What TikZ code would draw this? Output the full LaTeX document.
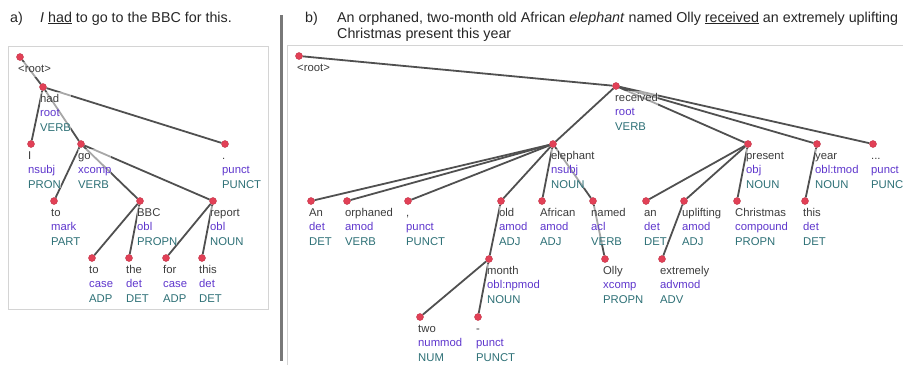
\documentclass[tikz,border=0pt]{standalone}
\usepackage{fontspec}
\setmainfont{Liberation Sans}
\usepackage{xcolor}
\usepackage{tikz}
\usetikzlibrary{positioning, backgrounds}

\definecolor{wordc}{RGB}{60,60,60}
\definecolor{relc}{RGB}{95,55,205}
\definecolor{posc}{RGB}{45,112,118}
\definecolor{dotc}{RGB}{226,64,86}
\definecolor{edgec}{RGB}{80,80,80}
\definecolor{panelc}{RGB}{212,212,212}
\definecolor{sepc}{RGB}{120,120,120}

\newcommand{\deprel}[1]{\textcolor{relc}{#1}}
\newcommand{\upos}[1]{\textcolor{posc}{#1}}

\begin{document}
\begin{tikzpicture}[
            x=1pt, y=-1pt,
            tok/.style={circle, fill=dotc, draw=dotc!85!black, line width=0.4pt, minimum size=7pt, inner sep=0pt},
            lbl/.style={anchor=north west, align=left, inner sep=0pt, text=wordc, fill=white, fill opacity=0.5, text opacity=1, font=\fontsize{11.3}{14.4}\selectfont},
            dep/.style={draw=edgec, line width=1.8pt},
            title/.style={anchor=base west, inner sep=0pt, text=black!85, font=\fontsize{14.3}{16.5}\selectfont},
            panel/.style={draw=panelc, line width=0.8pt}
        ]
        \useasboundingbox (0,0) rectangle (903,365);

        % Titles
        \node[title] (ta) at (10,22) {a)};
        \node[title] (tas) at (40,22) {\textit{I} \underline{had} to go to the BBC for this.};
        \node[title] (tb) at (305,22) {b)};
        \node[title] (tbs1) at (337,22) {An orphaned, two-month old African \textit{elephant} named Olly \underline{received} an extremely uplifting};
        \node[title] (tbs2) at (337,38.5) {Christmas present this year};

        % Panels
        \draw[panel] (8,46) rectangle (268,309);
        \draw[panel] (903,45) -- (287,45) -- (287,365);
        \draw[sepc, line width=3pt] (281,15) -- (281,361);

        % Sentence a: tokens
        \node[tok] (aroot) at (20,57) {};
        \node[lbl, below right=5pt and -2pt of aroot.center] (aroot-l) {\strut<root>};
        \node[tok] (ahad) at (43,87) {};
        \node[lbl, below right=5pt and -3pt of ahad.center] (ahad-l) {\strut had\\\deprel{root}\\\upos{VERB}};
        \node[tok] (aI) at (31,144) {};
        \node[lbl, below right=5pt and -3pt of aI.center] (aI-l) {\strut I\\\deprel{nsubj}\\\upos{PRON}};
        \node[tok] (ago) at (81,144) {};
        \node[lbl, below right=5pt and -3pt of ago.center] (ago-l) {\strut go\\\deprel{xcomp}\\\upos{VERB}};
        \node[tok] (apunct) at (225,144) {};
        \node[lbl, below right=5pt and -3pt of apunct.center] (apunct-l) {\strut .\\\deprel{punct}\\\upos{PUNCT}};
        \node[tok] (ato) at (54,201) {};
        \node[lbl, below right=5pt and -3pt of ato.center] (ato-l) {\strut to\\\deprel{mark}\\\upos{PART}};
        \node[tok] (abbc) at (140,201) {};
        \node[lbl, below right=5pt and -3pt of abbc.center] (abbc-l) {\strut BBC\\\deprel{obl}\\\upos{PROPN}};
        \node[tok] (areport) at (213,201) {};
        \node[lbl, below right=5pt and -3pt of areport.center] (areport-l) {\strut report\\\deprel{obl}\\\upos{NOUN}};
        \node[tok] (atocase) at (92,258) {};
        \node[lbl, below right=5pt and -3pt of atocase.center] (atocase-l) {\strut to\\\deprel{case}\\\upos{ADP}};
        \node[tok] (athe) at (129,258) {};
        \node[lbl, below right=5pt and -3pt of athe.center] (athe-l) {\strut the\\\deprel{det}\\\upos{DET}};
        \node[tok] (afor) at (166,258) {};
        \node[lbl, below right=5pt and -3pt of afor.center] (afor-l) {\strut for\\\deprel{case}\\\upos{ADP}};
        \node[tok] (athis) at (202,258) {};
        \node[lbl, below right=5pt and -3pt of athis.center] (athis-l) {\strut this\\\deprel{det}\\\upos{DET}};

        % Sentence b: tokens
        \node[tok] (broot) at (299,56) {};
        \node[lbl, below right=5pt and -2pt of broot.center] (broot-l) {\strut<root>};
        \node[tok] (breceived) at (616,86) {};
        \node[lbl, below right=5pt and -1pt of breceived.center] (breceived-l) {\strut received\\\deprel{root}\\\upos{VERB}};
        \node[tok] (belephant) at (553,144) {};
        \node[lbl, below right=5pt and -2pt of belephant.center] (belephant-l) {\strut elephant\\\deprel{nsubj}\\\upos{NOUN}};
        \node[tok] (bpresent) at (748,144) {};
        \node[lbl, below right=5pt and -2pt of bpresent.center] (bpresent-l) {\strut present\\\deprel{obj}\\\upos{NOUN}};
        \node[tok] (byear) at (817,144) {};
        \node[lbl, below right=5pt and -2pt of byear.center] (byear-l) {\strut year\\\deprel{obl:tmod}\\\upos{NOUN}};
        \node[tok] (bdots) at (873,144) {};
        \node[lbl, below right=5pt and -2pt of bdots.center] (bdots-l) {\strut ...\\\deprel{punct}\\\upos{PUNC}};
        \node[tok] (ban) at (311,201) {};
        \node[lbl, below right=5pt and -2pt of ban.center] (ban-l) {\strut An\\\deprel{det}\\\upos{DET}};
        \node[tok] (borphaned) at (347,201) {};
        \node[lbl, below right=5pt and -2pt of borphaned.center] (borphaned-l) {\strut orphaned\\\deprel{amod}\\\upos{VERB}};
        \node[tok] (bcomma) at (408,201) {};
        \node[lbl, below right=5pt and -2pt of bcomma.center] (bcomma-l) {\strut ,\\\deprel{punct}\\\upos{PUNCT}};
        \node[tok] (bold) at (501,201) {};
        \node[lbl, below right=5pt and -2pt of bold.center] (bold-l) {\strut old\\\deprel{amod}\\\upos{ADJ}};
        \node[tok] (bafrican) at (542,201) {};
        \node[lbl, below right=5pt and -2pt of bafrican.center] (bafrican-l) {\strut African\\\deprel{amod}\\\upos{ADJ}};
        \node[tok] (bnamed) at (593,201) {};
        \node[lbl, below right=5pt and -2pt of bnamed.center] (bnamed-l) {\strut named\\\deprel{acl}\\\upos{VERB}};
        \node[tok] (ban2) at (646,201) {};
        \node[lbl, below right=5pt and -2pt of ban2.center] (ban2-l) {\strut an\\\deprel{det}\\\upos{DET}};
        \node[tok] (buplifting) at (684,201) {};
        \node[lbl, below right=5pt and -2pt of buplifting.center] (buplifting-l) {\strut uplifting\\\deprel{amod}\\\upos{ADJ}};
        \node[tok] (bchristmas) at (737,201) {};
        \node[lbl, below right=5pt and -2pt of bchristmas.center] (bchristmas-l) {\strut Christmas\\\deprel{compound}\\\upos{PROPN}};
        \node[tok] (bthis) at (805,201) {};
        \node[lbl, below right=5pt and -2pt of bthis.center] (bthis-l) {\strut this\\\deprel{det}\\\upos{DET}};
        \node[tok] (bmonth) at (489,259) {};
        \node[lbl, below right=5pt and -2pt of bmonth.center] (bmonth-l) {\strut month\\\deprel{obl:npmod}\\\upos{NOUN}};
        \node[tok] (bolly) at (605,259) {};
        \node[lbl, below right=5pt and -2pt of bolly.center] (bolly-l) {\strut Olly\\\deprel{xcomp}\\\upos{PROPN}};
        \node[tok] (bextremely) at (662,259) {};
        \node[lbl, below right=5pt and -2pt of bextremely.center] (bextremely-l) {\strut extremely\\\deprel{advmod}\\\upos{ADV}};
        \node[tok] (btwo) at (420,317) {};
        \node[lbl, below right=5pt and -2pt of btwo.center] (btwo-l) {\strut two\\\deprel{nummod}\\\upos{NUM}};
        \node[tok] (bdash) at (478,317) {};
        \node[lbl, below right=5pt and -2pt of bdash.center] (bdash-l) {\strut -\\\deprel{punct}\\\upos{PUNCT}};

        % Dependency arcs
        \begin{scope}[on background layer]
            \draw[dep] (aroot) -- (ahad);
            \draw[dep] (ahad) -- (aI);
            \draw[dep] (ahad) -- (ago);
            \draw[dep] (ahad) -- (apunct);
            \draw[dep] (ago) -- (ato);
            \draw[dep] (ago) -- (abbc);
            \draw[dep] (ago) -- (areport);
            \draw[dep] (abbc) -- (atocase);
            \draw[dep] (abbc) -- (athe);
            \draw[dep] (areport) -- (afor);
            \draw[dep] (areport) -- (athis);

            \draw[dep] (broot) -- (breceived);
            \draw[dep] (breceived) -- (belephant);
            \draw[dep] (breceived) -- (bpresent);
            \draw[dep] (breceived) -- (byear);
            \draw[dep] (breceived) -- (bdots);
            \draw[dep] (belephant) -- (ban);
            \draw[dep] (belephant) -- (borphaned);
            \draw[dep] (belephant) -- (bcomma);
            \draw[dep] (belephant) -- (bold);
            \draw[dep] (belephant) -- (bafrican);
            \draw[dep] (belephant) -- (bnamed);
            \draw[dep] (bold) -- (bmonth);
            \draw[dep] (bmonth) -- (btwo);
            \draw[dep] (bmonth) -- (bdash);
            \draw[dep] (bnamed) -- (bolly);
            \draw[dep] (bpresent) -- (ban2);
            \draw[dep] (bpresent) -- (buplifting);
            \draw[dep] (bpresent) -- (bchristmas);
            \draw[dep] (buplifting) -- (bextremely);
            \draw[dep] (byear) -- (bthis);
        \end{scope}

    \end{tikzpicture}
\end{document}
